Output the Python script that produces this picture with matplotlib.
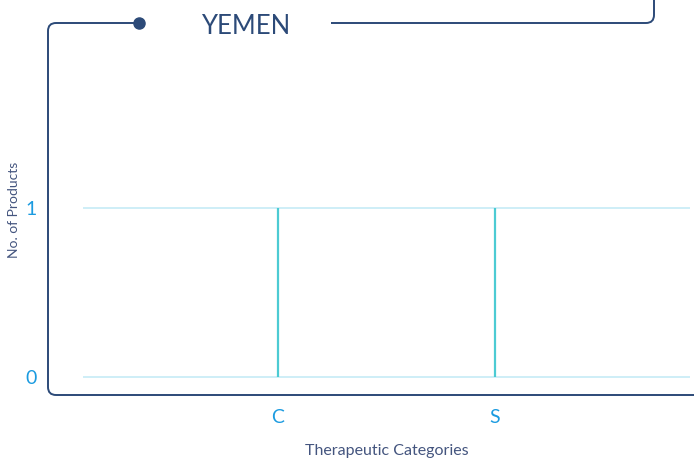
import matplotlib.pyplot as plt
from matplotlib.path import Path
from matplotlib.patches import PathPatch

# data
categories = ['C', 'S']
counts = [1, 1]
y_ticks = [0, 1]
title = 'YEMEN'

navy = '#2c4a78'
label_col = '#44557f'
tick_col = '#1b9be0'
stem_col = '#4ccbd3'
grid_col = '#c6ebf6'

plt.rcParams['font.family'] = ['Lato', 'DejaVu Sans']

fig = plt.figure(figsize=(6.94, 4.62), dpi=100)
ax = fig.add_axes([82.7 / 694, (462 - 393.9) / 462, 607.6 / 694, 354.9 / 462])

x = list(range(len(categories)))
ax.vlines(x, 0, counts, color=stem_col, lw=1.6, zorder=3)
ax.set_xlim(-0.9, len(categories) - 0.1)
ax.set_ylim(-0.1, 2.0)
ax.set_xticks(x)
ax.set_xticklabels(categories)
ax.set_yticks(y_ticks)
ax.grid(axis='y', color=grid_col, lw=1.2)
ax.set_axisbelow(True)
for s in ax.spines.values():
    s.set_visible(False)
ax.tick_params(length=0, labelcolor=tick_col, labelsize=14)
ax.tick_params(axis='y', pad=33)
ax.tick_params(axis='x', pad=11)
ax.set_xlabel('Therapeutic Categories', color=label_col, fontsize=11.5, labelpad=13)

# decorative frame in pixel coordinates
ov = fig.add_axes([0, 0, 1, 1], zorder=5)
ov.set_xlim(0, 694)
ov.set_ylim(462, 0)
ov.axis('off')
ov.patch.set_alpha(0)

left = Path([(138, 23), (56, 23), (48, 23), (48, 31), (48, 387), (48, 395), (56, 395), (694, 395)],
            [Path.MOVETO, Path.LINETO, Path.CURVE3, Path.CURVE3, Path.LINETO,
             Path.CURVE3, Path.CURVE3, Path.LINETO])
ov.add_patch(PathPatch(left, fill=False, edgecolor=navy, lw=1.4))
right = Path([(331, 23), (646, 23), (654, 23), (654, 15), (654, 0)],
             [Path.MOVETO, Path.LINETO, Path.CURVE3, Path.CURVE3, Path.LINETO])
ov.add_patch(PathPatch(right, fill=False, edgecolor=navy, lw=1.4))
ov.plot([139], [23], 'o', color=navy, ms=8)
ov.text(246, 27, title, color=navy, fontsize=18.5, ha='center', va='center')
ov.text(14, 210, 'No. of Products', color=label_col, fontsize=10,
        rotation=90, ha='center', va='center')

fig.savefig('out.png', dpi=100)
